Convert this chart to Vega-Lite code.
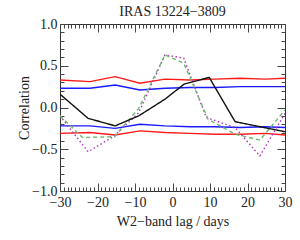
{
  "$schema": "https://vega.github.io/schema/vega-lite/v6.json",
  "width": 225,
  "height": 167,
  "autosize": "none",
  "padding": {"left": 60, "top": 24, "right": 15, "bottom": 49},
  "background": "white",
  "title": {"text": "IRAS 13224−3809", "font": "Liberation Serif", "fontSize": 14, "fontWeight": "normal", "color": "#222", "offset": -2, "anchor": "middle"},
  "config": {
    "view": {"stroke": "#333", "strokeWidth": 1},
    "axis": {"labelFont": "Liberation Serif", "labelFontSize": 14, "labelColor": "#222", "titleFont": "Liberation Serif", "titleFontSize": 14, "titleFontWeight": "normal", "titleColor": "#222", "grid": false, "domain": false, "tickColor": "#444", "tickWidth": 1, "labelOverlap": false, "labelFlush": false, "labelBound": false}
  },
  "datasets": {
    "levels": [
      {"s": "99u", "level": "99%", "lag": -30, "r": 0.33}, {"s": "99u", "level": "99%", "lag": -22, "r": 0.31}, {"s": "99u", "level": "99%", "lag": -15.3, "r": 0.37}, {"s": "99u", "level": "99%", "lag": -8.7, "r": 0.29}, {"s": "99u", "level": "99%", "lag": -2, "r": 0.34}, {"s": "99u", "level": "99%", "lag": 4.7, "r": 0.33}, {"s": "99u", "level": "99%", "lag": 11.3, "r": 0.34}, {"s": "99u", "level": "99%", "lag": 18, "r": 0.35}, {"s": "99u", "level": "99%", "lag": 24.7, "r": 0.34}, {"s": "99u", "level": "99%", "lag": 30, "r": 0.35},
      {"s": "99l", "level": "99%", "lag": -30, "r": -0.31}, {"s": "99l", "level": "99%", "lag": -22, "r": -0.30}, {"s": "99l", "level": "99%", "lag": -15.3, "r": -0.33}, {"s": "99l", "level": "99%", "lag": -8.7, "r": -0.28}, {"s": "99l", "level": "99%", "lag": -2, "r": -0.30}, {"s": "99l", "level": "99%", "lag": 4.7, "r": -0.31}, {"s": "99l", "level": "99%", "lag": 11.3, "r": -0.32}, {"s": "99l", "level": "99%", "lag": 18, "r": -0.32}, {"s": "99l", "level": "99%", "lag": 24.7, "r": -0.31}, {"s": "99l", "level": "99%", "lag": 30, "r": -0.33},
      {"s": "95u", "level": "95%", "lag": -30, "r": 0.23}, {"s": "95u", "level": "95%", "lag": -22, "r": 0.23}, {"s": "95u", "level": "95%", "lag": -15.3, "r": 0.27}, {"s": "95u", "level": "95%", "lag": -8.7, "r": 0.21}, {"s": "95u", "level": "95%", "lag": -2, "r": 0.23}, {"s": "95u", "level": "95%", "lag": 4.7, "r": 0.24}, {"s": "95u", "level": "95%", "lag": 11.3, "r": 0.24}, {"s": "95u", "level": "95%", "lag": 18, "r": 0.25}, {"s": "95u", "level": "95%", "lag": 24.7, "r": 0.25}, {"s": "95u", "level": "95%", "lag": 30, "r": 0.25},
      {"s": "95l", "level": "95%", "lag": -30, "r": -0.22}, {"s": "95l", "level": "95%", "lag": -22, "r": -0.22}, {"s": "95l", "level": "95%", "lag": -15.3, "r": -0.25}, {"s": "95l", "level": "95%", "lag": -8.7, "r": -0.20}, {"s": "95l", "level": "95%", "lag": -2, "r": -0.22}, {"s": "95l", "level": "95%", "lag": 4.7, "r": -0.23}, {"s": "95l", "level": "95%", "lag": 11.3, "r": -0.23}, {"s": "95l", "level": "95%", "lag": 18, "r": -0.24}, {"s": "95l", "level": "95%", "lag": 24.7, "r": -0.23}, {"s": "95l", "level": "95%", "lag": 30, "r": -0.24}
    ],
    "curves": [
      {"s": "ACF W1", "lag": -30, "r": -0.10}, {"s": "ACF W1", "lag": -22.5, "r": -0.53}, {"s": "ACF W1", "lag": -15.5, "r": -0.34}, {"s": "ACF W1", "lag": -9, "r": -0.06}, {"s": "ACF W1", "lag": -2, "r": 0.63}, {"s": "ACF W1", "lag": 3, "r": 0.59}, {"s": "ACF W1", "lag": 9, "r": -0.12}, {"s": "ACF W1", "lag": 16.7, "r": -0.24}, {"s": "ACF W1", "lag": 23.3, "r": -0.58}, {"s": "ACF W1", "lag": 30, "r": -0.07},
      {"s": "ACF W2", "lag": -30, "r": -0.10}, {"s": "ACF W2", "lag": -24, "r": -0.36}, {"s": "ACF W2", "lag": -15.5, "r": -0.35}, {"s": "ACF W2", "lag": -9, "r": -0.01}, {"s": "ACF W2", "lag": -2, "r": 0.63}, {"s": "ACF W2", "lag": 3, "r": 0.53}, {"s": "ACF W2", "lag": 9.5, "r": -0.14}, {"s": "ACF W2", "lag": 16.7, "r": -0.32}, {"s": "ACF W2", "lag": 23.3, "r": -0.39}, {"s": "ACF W2", "lag": 30, "r": -0.03},
      {"s": "CCF", "lag": -30, "r": 0.16}, {"s": "CCF", "lag": -22.5, "r": -0.13}, {"s": "CCF", "lag": -15.3, "r": -0.22}, {"s": "CCF", "lag": -9, "r": -0.10}, {"s": "CCF", "lag": -2, "r": 0.10}, {"s": "CCF", "lag": 3.1, "r": 0.28}, {"s": "CCF", "lag": 9.8, "r": 0.36}, {"s": "CCF", "lag": 16.7, "r": -0.17}, {"s": "CCF", "lag": 23.3, "r": -0.23}, {"s": "CCF", "lag": 30, "r": -0.29}
    ]
  },
  "layer": [
    {
      "data": {"name": "levels"},
      "mark": {"type": "line", "strokeWidth": 1.4, "clip": true},
      "encoding": {
        "x": {"field": "lag", "type": "quantitative", "scale": {"domain": [-30, 30], "nice": false, "zero": false},
          "axis": {"orient": "bottom", "title": "W2−band lag / days", "titlePadding": 1, "labelPadding": 12,
            "values": [-30,-29,-28,-27,-26,-25,-24,-23,-22,-21,-20,-19,-18,-17,-16,-15,-14,-13,-12,-11,-10,-9,-8,-7,-6,-5,-4,-3,-2,-1,0,1,2,3,4,5,6,7,8,9,10,11,12,13,14,15,16,17,18,19,20,21,22,23,24,25,26,27,28,29,30],
            "labelExpr": "datum.value % 10 === 0 ? format(datum.value, 'd') : ''",
            "tickSize": {"condition": {"test": "datum.value % 10 === 0", "value": -8}, "value": -4}}},
        "y": {"field": "r", "type": "quantitative", "scale": {"domain": [-1, 1], "nice": false, "zero": false},
          "axis": {"orient": "left", "title": "Correlation", "titlePadding": 0, "labelPadding": 11,
            "values": [-1,-0.9,-0.8,-0.7,-0.6,-0.5,-0.4,-0.3,-0.2,-0.1,0,0.1,0.2,0.3,0.4,0.5,0.6,0.7,0.8,0.9,1],
            "labelExpr": "abs(datum.value * 2 - round(datum.value * 2)) < 0.001 ? format(datum.value, '.1f') : ''",
            "tickSize": {"condition": {"test": "abs(datum.value * 2 - round(datum.value * 2)) < 0.001", "value": -8}, "value": -4}}},
        "detail": {"field": "s"},
        "color": {"field": "level", "type": "nominal", "scale": {"domain": ["99%", "95%"], "range": ["#ff1a1a", "#1a1aff"]}, "legend": null}
      }
    },
    {
      "data": {"name": "curves"},
      "mark": {"type": "line", "strokeWidth": 1.4, "clip": true},
      "encoding": {
        "x": {"field": "lag", "type": "quantitative",
          "axis": {"orient": "top", "title": null, "labels": false,
            "values": [-30,-29,-28,-27,-26,-25,-24,-23,-22,-21,-20,-19,-18,-17,-16,-15,-14,-13,-12,-11,-10,-9,-8,-7,-6,-5,-4,-3,-2,-1,0,1,2,3,4,5,6,7,8,9,10,11,12,13,14,15,16,17,18,19,20,21,22,23,24,25,26,27,28,29,30],
            "tickSize": {"condition": {"test": "datum.value % 10 === 0", "value": -8}, "value": -4}}},
        "y": {"field": "r", "type": "quantitative",
          "axis": {"orient": "right", "title": null, "labels": false,
            "values": [-1,-0.9,-0.8,-0.7,-0.6,-0.5,-0.4,-0.3,-0.2,-0.1,0,0.1,0.2,0.3,0.4,0.5,0.6,0.7,0.8,0.9,1],
            "tickSize": {"condition": {"test": "abs(datum.value * 2 - round(datum.value * 2)) < 0.001", "value": -8}, "value": -4}}},
        "color": {"field": "s", "type": "nominal", "scale": {"domain": ["ACF W1", "ACF W2", "CCF"], "range": ["#b030c0", "#6cb86c", "#111111"]}, "legend": null},
        "strokeDash": {"field": "s", "type": "nominal", "scale": {"domain": ["ACF W1", "ACF W2", "CCF"], "range": [[1.5, 2.5], [4, 3], [1, 0]]}, "legend": null}
      }
    }
  ],
  "resolve": {"axis": {"x": "independent", "y": "independent"}, "scale": {"color": "independent"}}
}
